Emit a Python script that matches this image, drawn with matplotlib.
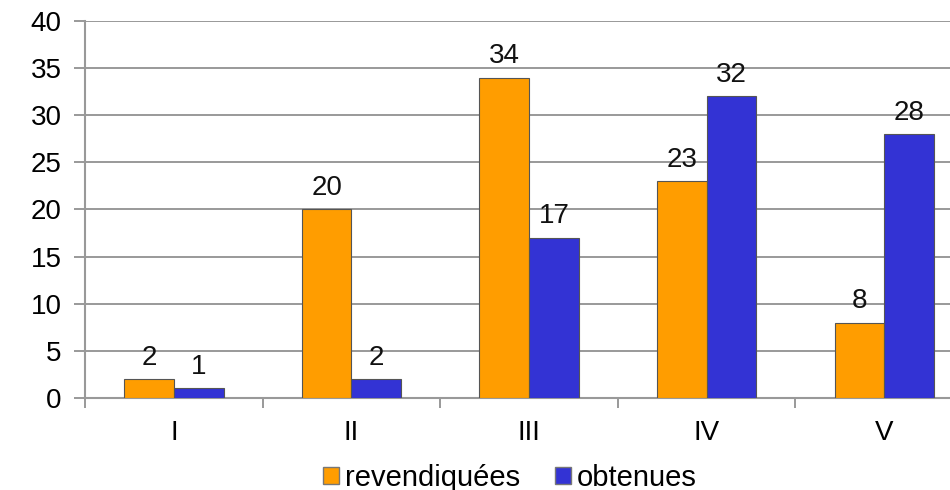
import numpy as np
import matplotlib.pyplot as plt
from matplotlib.patches import Patch

categories = ['I', 'II', 'III', 'IV', 'V']
revendiquees = [2, 20, 34, 23, 8]
obtenues = [1, 2, 17, 32, 28]

plt.rcParams['font.family'] = ['Liberation Sans', 'DejaVu Sans']

fig = plt.figure(figsize=(9.5, 4.9), dpi=100)
ax = fig.add_axes([0.0895, 0.188, 0.9105, 0.769])

x = np.arange(len(categories))
w = 0.28
orange = '#FF9D00'
blue = '#3333D4'

b1 = ax.bar(x - w / 2, revendiquees, w, color=orange, edgecolor='#555555', linewidth=0.8, zorder=3)
b2 = ax.bar(x + w / 2, obtenues, w, color=blue, edgecolor='#555555', linewidth=0.8, zorder=3)

# valeurs au-dessus des barres
for bars, vals in [(b1, revendiquees), (b2, obtenues)]:
    for bar, v in zip(bars, vals):
        ax.annotate(str(v), (bar.get_x() + bar.get_width() / 2, v), xytext=(0, 6),
                    textcoords='offset points', ha='center', va='bottom', fontsize=20, color='#111111')

ax.set_yticks(range(0, 41, 5))
ax.set_xticks(x)
ax.set_xticklabels(categories)
ax.set_xticks(np.arange(-0.5, 5, 1), minor=True)
ax.set_ylim(0, 40)
ax.set_xlim(-0.5, 4.37)
ax.tick_params(axis='x', which='major', length=0, pad=16, labelsize=20)
ax.tick_params(axis='x', which='minor', length=7, color='#888888', width=1.2)
ax.tick_params(axis='y', length=8, color='#888888', width=1.2, labelsize=20, pad=9)

ax.yaxis.grid(True, color='#888888', linewidth=1.2, zorder=0)
for s in ['top', 'right']:
    ax.spines[s].set_visible(False)
for s in ['left', 'bottom']:
    ax.spines[s].set_color('#999999')
    ax.spines[s].set_linewidth(1.5)

handles = [Patch(facecolor=orange, edgecolor='#777777', label='revendiquées'),
           Patch(facecolor=blue, edgecolor='#777777', label='obtenues')]
fig.legend(handles=handles, loc='center', bbox_to_anchor=(0.537, 0.025), ncol=2, frameon=False,
           fontsize=21, handlelength=0.55, handleheight=0.55, handletextpad=0.2, columnspacing=1.2)

fig.savefig('out.png', dpi=100)
